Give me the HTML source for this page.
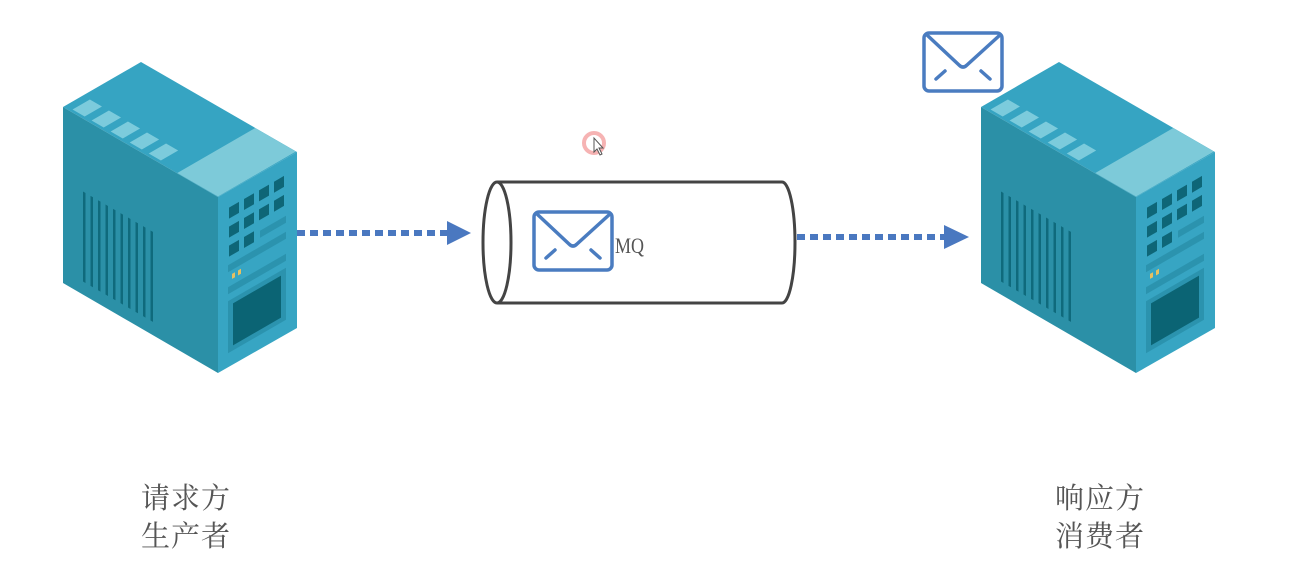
<!DOCTYPE html>
<html><head><meta charset="utf-8"><style>
body{margin:0;background:#fff;width:1302px;height:576px;overflow:hidden;position:relative;font-family:"Liberation Sans","Noto Sans CJK SC",sans-serif}
.lbl{position:absolute;font-size:29px;line-height:38px;color:#555;font-family:"Liberation Serif","Noto Serif CJK SC","Noto Sans CJK SC",serif;letter-spacing:1px}
</style></head><body>
<svg width="1302" height="576" viewBox="0 0 1302 576" style="position:absolute;left:0;top:0">
<defs>
<g id="srv">
  <polygon points="63,107 141,62 297,152 218,197" fill="#36a4c2"/>
  <g transform="matrix(0.866,-0.5,0.866,0.5,63,107)">
    <rect x="0" y="132" width="90" height="47" fill="#7dcad9"/>
    <rect x="3" y="8" width="20" height="14" fill="#7ccbdc"/>
    <rect x="3" y="30" width="20" height="14" fill="#7ccbdc"/>
    <rect x="3" y="52" width="20" height="14" fill="#7ccbdc"/>
    <rect x="3" y="74" width="20" height="14" fill="#7ccbdc"/>
    <rect x="3" y="96" width="20" height="14" fill="#7ccbdc"/>
  </g>
  <polygon points="63,107 218,197 218,373 63,283" fill="#2b90a7"/>
  <g transform="matrix(1,0.577,0,1,63,107)" fill="#0f6a7c">
    <rect x="20" y="73" width="2.5" height="90"/><rect x="27.5" y="73" width="2.5" height="90"/>
    <rect x="35" y="73" width="2.5" height="90"/><rect x="42.5" y="73" width="2.5" height="90"/>
    <rect x="50" y="73" width="2.5" height="90"/><rect x="57.5" y="73" width="2.5" height="90"/>
    <rect x="65" y="73" width="2.5" height="90"/><rect x="72.5" y="73" width="2.5" height="90"/>
    <rect x="80" y="73" width="2.5" height="90"/><rect x="87.5" y="73" width="2.5" height="90"/>
  </g>
  <polygon points="218,197 297,152 297,328 218,373" fill="#37a5c3"/>
  <g transform="matrix(1,-0.577,0,1,218,197)">
    <g fill="#0e6677">
      <rect x="11" y="17" width="10" height="11"/><rect x="26" y="17" width="10" height="11"/><rect x="41" y="17" width="10" height="11"/><rect x="56" y="17" width="10" height="11"/>
      <rect x="11" y="36" width="10" height="11"/><rect x="26" y="36" width="10" height="11"/><rect x="41" y="36" width="10" height="11"/><rect x="56" y="36" width="10" height="11"/>
      <rect x="11" y="55" width="10" height="11"/><rect x="26" y="55" width="10" height="11"/>
    </g>
    <rect x="42" y="58" width="26" height="7" fill="#2b93ae"/>
    <rect x="10" y="74" width="58" height="7" fill="#2b93ae"/>
    <rect x="14" y="85" width="3" height="5" fill="#e8c060"/>
    <rect x="20" y="85" width="3" height="5" fill="#e8c060"/>
    <rect x="10" y="96" width="58" height="7" fill="#2b93ae"/>
    <rect x="10" y="110" width="58" height="52" fill="#2b93ae"/>
    <rect x="15" y="115" width="48" height="42" fill="#0b6474"/>
  </g>
</g>
<g id="env">
  <rect x="2" y="2" width="78" height="58" rx="5" fill="#fff" stroke="#4a7cc0" stroke-width="3.5"/>
  <path d="M5,4 L37,34 Q41,38 45,34 L78,4" fill="none" stroke="#4a7cc0" stroke-width="3.5"/>
  <path d="M14,48 L23,40 M68,48 L59,40" stroke="#4a7cc0" stroke-width="3.5" stroke-linecap="round"/>
</g>
</defs>
<use href="#srv"/>
<use href="#srv" transform="translate(918,0)"/>
<line x1="297" y1="233" x2="448" y2="233" stroke="#4a78c0" stroke-width="6" stroke-dasharray="8,5"/>
<polygon points="447,221 471,233 447,245" fill="#4a78c0"/>
<line x1="797" y1="237" x2="945" y2="237" stroke="#4a78c0" stroke-width="6" stroke-dasharray="8,5"/>
<polygon points="944,225 969,237 944,249" fill="#4a78c0"/>
<path d="M497,182 L782,182 A13,60.5 0 0 1 782,303 L497,303" fill="#fff" stroke="#444" stroke-width="3"/>
<ellipse cx="497" cy="242.5" rx="14" ry="60.5" fill="#fff" stroke="#444" stroke-width="3"/>
<use href="#env" transform="translate(532,210)"/>
<text x="615" y="253" font-family="Liberation Serif,serif" font-size="22" fill="#555" textLength="29" lengthAdjust="spacingAndGlyphs">MQ</text>
<use href="#env" transform="translate(922,31)"/>
<circle cx="594" cy="143" r="10" fill="none" stroke="#f4a0a0" stroke-width="4" opacity="0.8"/>
<path d="M594,138 L594,152 L597,149 L600,155 L602,154 L599,148 L603,148 Z" fill="#fff" stroke="#555" stroke-width="1"/>
</svg>
<div class="lbl" style="left:141px;top:480px">请求方<br>生产者</div>
<div class="lbl" style="left:1055px;top:480px">响应方<br>消费者</div>
</body></html>
